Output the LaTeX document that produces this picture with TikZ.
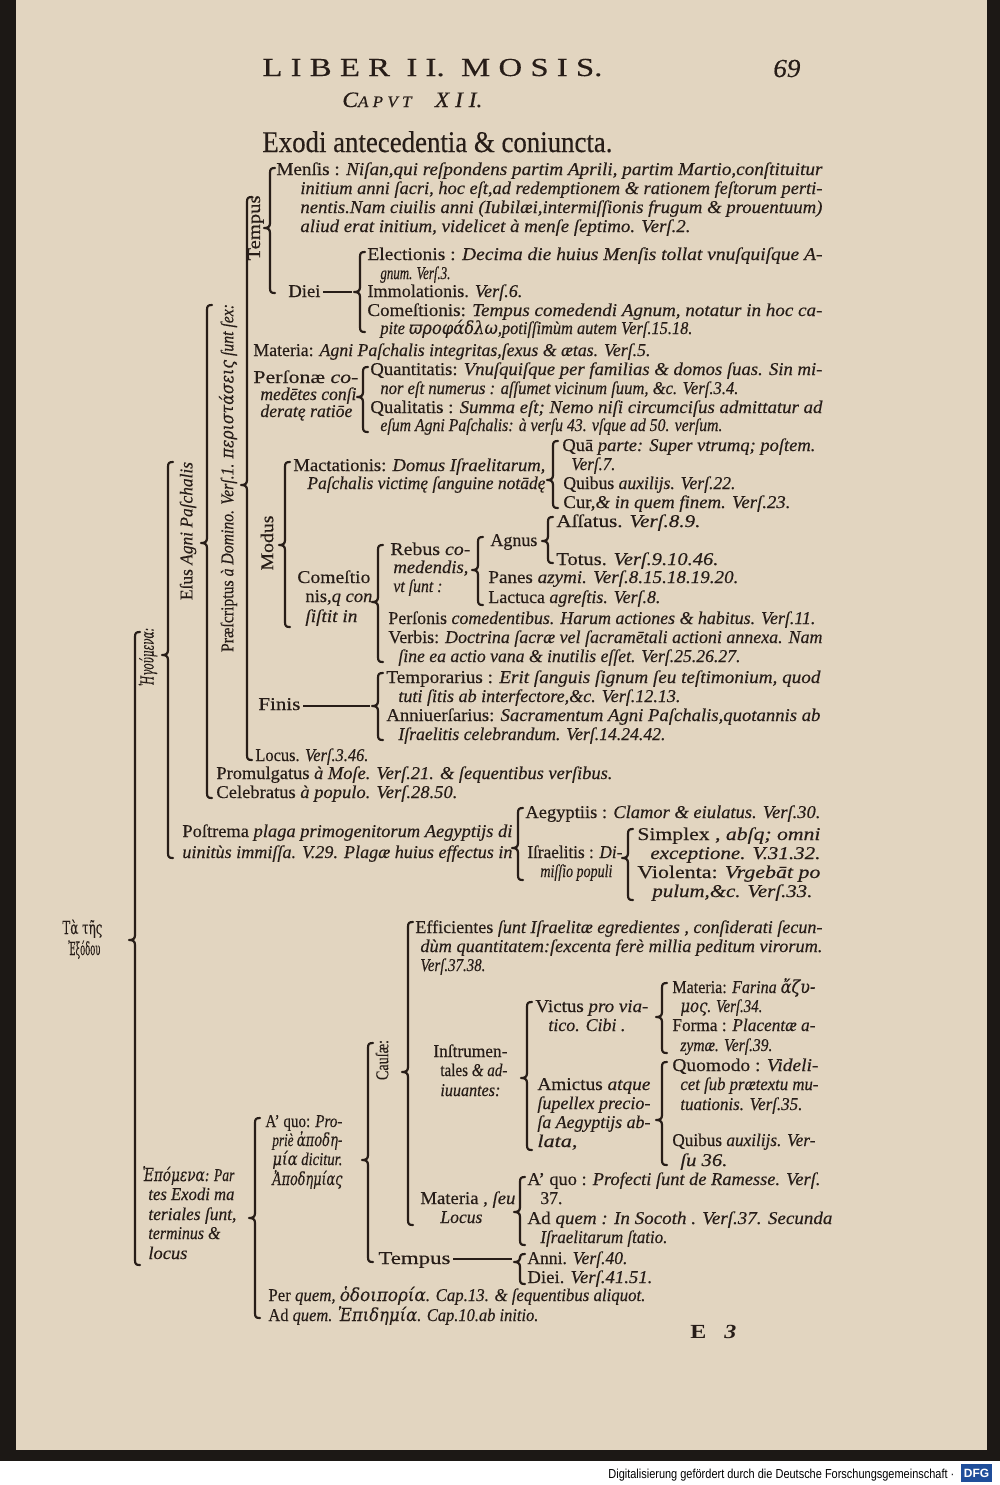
\documentclass[tikz,border=0pt]{standalone}
\usepackage{fontspec}
\usepackage{graphicx}
\setmainfont{Liberation Serif}[UprightFeatures={FakeBold=0.35},ItalicFeatures={FakeBold=0.35}]
\newfontfamily\grk{DejaVu Serif}[UprightFeatures={FakeBold=0.2},ItalicFeatures={FakeBold=0.2}]
\newfontfamily\sansf{Liberation Sans}
\definecolor{paper}{HTML}{E2D5C0}
\definecolor{ink}{HTML}{271D18}
\definecolor{edge}{HTML}{1C1815}
\definecolor{dfgblue}{HTML}{1F4E9A}
\newdimen\upx \upx=0.5pt
\newcommand\Iv[1]{{\itshape #1}}
\newcommand\gk[1]{{\grk\itshape #1}}
\newcommand\T[5]{\node[tx] (#1) at (#2,#3) {\resizebox{\dimexpr #4\upx-#2\upx\relax}{\height}{#5}};}
\newcommand\RT[5]{\node[tx,anchor=center,rotate=90] (#1) at (#2,#3) {\resizebox{#4\upx}{\height}{#5}};}
\newcommand\brc[4]{\draw[brk] (#1+5,#2) .. controls (#1+1,#2) and (#1,#2+1) .. (#1,#2+5) -- (#1,#4-5) .. controls (#1,#4-1) and (#1-2,#4) .. (#1-6,#4) .. controls (#1-2,#4) and (#1,#4+1) .. (#1,#4+5) -- (#1,#3-5) .. controls (#1,#3-1) and (#1+1,#3) .. (#1+5,#3);}
\tikzset{
  tx/.style={anchor=base west, inner sep=0pt, text=ink, font=\fontsize{9}{10}\selectfont},
  brk/.style={draw=ink, line width=1.1pt, line cap=round, line join=round},
  dashln/.style={draw=ink, line width=1.1pt}
}
\begin{document}
\begin{tikzpicture}[x=0.5pt,y=-0.5pt]
\useasboundingbox (0,0) rectangle (1000,1485);
\fill[edge] (0,0) rectangle (1000,1485);
\fill[paper] (16,0) rectangle (987,1450);
\fill[white] (0,1461) rectangle (1000,1485);
% header
\T{hdA}{262}{76}{602}{\fontsize{13}{13}\selectfont L I B E R \ I I. \ M O S I S.}
\T{hdB}{773}{77}{800}{\fontsize{13}{13}\selectfont\itshape 69}
\T{hdC}{342}{107}{482}{\fontsize{11}{11}\selectfont\itshape C{\fontsize{8}{8}\selectfont A P V T}\quad X I I.}
\T{hdD}{262}{152}{612}{\fontsize{15}{15}\selectfont Exodi antecedentia \& coniuncta.}
% rotated labels
\RT{lTemp}{256}{228}{65}{Tempus}
\RT{lMod}{267}{543}{55}{Modus}
\RT{lCau}{382}{1060}{40}{Cauſæ:}
\RT{lPrae}{228}{478}{348}{Præſcriptus \Iv{à Domino. Verſ.1.} \gk{περιστάσεις} \Iv{ſunt ſex:}}
\RT{lEsus}{188}{531}{138}{Eſus \Iv{Agni Paſchalis}}
\RT{lHeg}{148}{657}{58}{\gk{Ἡγούμενα:}}
% Tempus
\T{nM1}{276}{175}{822}{Menſis : \Iv{Niſan,qui reſpondens partim Aprili, partim Martio,conſtituitur}}
\T{nM2}{300}{194}{822}{\Iv{initium anni ſacri, hoc eſt,ad redemptionem \& rationem feſtorum perti-}}
\T{nM3}{300}{213}{822}{\Iv{nentis.Nam ciuilis anni (Iubilæi,intermiſſionis frugum \& prouentuum)}}
\T{nM4}{300}{232}{690}{\Iv{aliud erat initium, videlicet à menſe ſeptimo. Verſ.2.}}
\T{nEl1}{367}{260}{822}{Electionis : \Iv{Decima die huius Menſis tollat vnuſquiſque A-}}
\T{nEl2}{380}{279}{450}{\Iv{gnum. Verſ.3.}}
\T{nDiei}{288}{297}{320}{Diei}
\T{nIm}{367}{297}{522}{Immolationis. \Iv{Verſ.6.}}
\T{nCo1}{367}{316}{822}{Comeſtionis: \Iv{Tempus comedendi Agnum, notatur in hoc ca-}}
\T{nCo2}{380}{334}{692}{\Iv{pite} \gk{ϖροφάδλω}\Iv{,potiſſimùm autem Verſ.15.18.}}
\T{nMat}{253}{356}{650}{Materia: \Iv{Agni Paſchalis integritas,ſexus \& ætas. Verſ.5.}}
\T{nP1}{253}{383}{358}{Perſonæ \Iv{co-}}
\T{nP2}{260}{400}{356}{\Iv{medētes conſi}}
\T{nP3}{260}{417}{352}{\Iv{deratę ratiōe}}
\T{nQ1}{370}{375}{822}{Quantitatis: \Iv{Vnuſquiſque per familias \& domos ſuas. Sin mi-}}
\T{nQ2}{380}{394}{738}{\Iv{nor eſt numerus : aſſumet vicinum ſuum, \&c. Verſ.3.4.}}
\T{nQ3}{370}{413}{822}{Qualitatis : \Iv{Summa eſt; Nemo niſi circumciſus admittatur ad}}
\T{nQ4}{380}{431}{722}{\Iv{eſum Agni Paſchalis: à verſu 43. vſque ad 50. verſum.}}
% Modus
\T{nMa1}{293}{471}{545}{Mactationis: \Iv{Domus Iſraelitarum,}}
\T{nMa2}{307}{489}{545}{\Iv{Paſchalis victimę ſanguine notādę}}
\T{nQp1}{562}{451}{815}{Quā \Iv{parte: Super vtrumq; poſtem.}}
\T{nQp2}{571}{470}{615}{\Iv{Verſ.7.}}
\T{nQa}{563}{489}{735}{Quibus \Iv{auxilijs. Verſ.22.}}
\T{nCur}{563}{508}{790}{Cur,\Iv{\& in quem finem. Verſ.23.}}
\T{nAs}{556}{527}{700}{Aſſatus. \Iv{Verſ.8.9.}}
\T{nAg}{490}{546}{537}{Agnus}
\T{nTo}{556}{565}{718}{Totus. \Iv{Verſ.9.10.46.}}
\T{nCe1}{297}{583}{370}{Comeſtio}
\T{nCe2}{305}{602}{372}{nis,\Iv{q con}}
\T{nCe3}{305}{622}{357}{\Iv{ſiſtit in}}
\T{nRb1}{390}{555}{470}{Rebus \Iv{co-}}
\T{nRb2}{393}{573}{468}{\Iv{medendis,}}
\T{nRb3}{393}{592}{442}{\Iv{vt ſunt :}}
\T{nPa}{488}{583}{738}{Panes \Iv{azymi. Verſ.8.15.18.19.20.}}
\T{nLa}{488}{603}{660}{Lactuca \Iv{agreſtis. Verſ.8.}}
\T{nPe}{388}{624}{815}{Perſonis \Iv{comedentibus. Harum actiones \& habitus. Verſ.11.}}
\T{nVe1}{388}{643}{822}{Verbis: \Iv{Doctrina ſacræ vel ſacramētali actioni annexa. Nam}}
\T{nVe2}{398}{662}{740}{\Iv{ſine ea actio vana \& inutilis eſſet. Verſ.25.26.27.}}
% Finis
\T{nFin}{258}{710}{300}{Finis}
\T{nTe1}{386}{683}{820}{Temporarius : \Iv{Erit ſanguis ſignum ſeu teſtimonium, quod}}
\T{nTe2}{398}{702}{680}{\Iv{tuti ſitis ab interfectore,\&c. Verſ.12.13.}}
\T{nAn1}{386}{721}{820}{Anniuerſarius: \Iv{Sacramentum Agni Paſchalis,quotannis ab}}
\T{nAn2}{398}{740}{665}{\Iv{Iſraelitis celebrandum. Verſ.14.24.42.}}
\T{nLoc}{255}{761}{368}{Locus. \Iv{Verſ.3.46.}}
\T{nPro}{216}{779}{612}{Promulgatus \Iv{à Moſe. Verſ.21. \& ſequentibus verſibus.}}
\T{nCel}{216}{798}{457}{Celebratus \Iv{à populo. Verſ.28.50.}}
% Postrema
\T{nPs1}{182}{837}{512}{Poſtrema \Iv{plaga primogenitorum Aegyptijs di}}
\T{nPs2}{182}{858}{512}{\Iv{uinitùs immiſſa. V.29. Plagæ huius effectus in}}
\T{nAe}{525}{818}{820}{Aegyptiis : \Iv{Clamor \& eiulatus. Verſ.30.}}
\T{nIs1}{527}{858}{622}{Iſraelitis : \Iv{Di-}}
\T{nIs2}{540}{877}{612}{\Iv{miſſio populi}}
\T{nSi1}{637}{840}{820}{Simplex , \Iv{abſq; omni}}
\T{nSi2}{650}{859}{820}{\Iv{exceptione. V.31.32.}}
\T{nVi1}{637}{878}{820}{Violenta: \Iv{Vrgebāt po}}
\T{nVi2}{652}{897}{812}{\Iv{pulum,\&c. Verſ.33.}}
% root
\T{nTa1}{62}{934}{102}{\grk Τὰ τῆς}
\T{nTa2}{68}{955}{100}{\grk Ἐξόδου}
% Epomena
\T{nEf1}{415}{933}{822}{Efficientes \Iv{ſunt Iſraelitæ egredientes , conſiderati ſecun-}}
\T{nEf2}{420}{952}{822}{\Iv{dùm quantitatem:ſexcenta ferè millia peditum virorum.}}
\T{nEf3}{420}{971}{485}{\Iv{Verſ.37.38.}}
\T{nFa1}{672}{993}{815}{Materia: \Iv{Farina} \gk{ἄζυ-}}
\T{nFa2}{680}{1012}{762}{\gk{μος}\Iv{. Verſ.34.}}
\T{nVc1}{535}{1012}{648}{Victus \Iv{pro via-}}
\T{nVc2}{548}{1031}{625}{\Iv{tico. Cibi .}}
\T{nFo1}{672}{1031}{815}{Forma : \Iv{Placentæ a-}}
\T{nFo2}{680}{1051}{772}{\Iv{zymæ. Verſ.39.}}
\T{nIn1}{433}{1057}{507}{Inſtrumen-}
\T{nIn2}{440}{1076}{507}{tales \Iv{\& ad-}}
\T{nIn3}{440}{1096}{500}{\Iv{iuuantes:}}
\T{nQm1}{672}{1071}{818}{Quomodo : \Iv{Videli-}}
\T{nQm2}{680}{1090}{818}{\Iv{cet ſub prætextu mu-}}
\T{nQm3}{680}{1110}{802}{\Iv{tuationis. Verſ.35.}}
\T{nAm1}{537}{1090}{650}{Amictus \Iv{atque}}
\T{nAm2}{537}{1109}{650}{\Iv{ſupellex precio-}}
\T{nAm3}{537}{1128}{650}{\Iv{ſa Aegyptijs ab-}}
\T{nAm4}{537}{1147}{577}{\Iv{lata,}}
\T{nQb1}{672}{1146}{815}{Quibus \Iv{auxilijs. Ver-}}
\T{nQb2}{680}{1166}{727}{\Iv{ſu 36.}}
\T{nAq1}{265}{1127}{342}{A' quo: \Iv{Pro-}}
\T{nAq2}{272}{1146}{342}{\Iv{priè} \gk{ἀποδη-}}
\T{nAq3}{272}{1165}{342}{\gk{μία} \Iv{dicitur.}}
\T{nAq4}{272}{1185}{342}{\gk{Ἀποδημίας}}
\T{nEp1}{142}{1181}{234}{\gk{Ἑπόμενα:} \Iv{Par}}
\T{nEp2}{148}{1200}{234}{\Iv{tes Exodi ma}}
\T{nEp3}{148}{1220}{236}{\Iv{teriales ſunt,}}
\T{nEp4}{148}{1239}{220}{\Iv{terminus \&}}
\T{nEp5}{148}{1259}{187}{\Iv{locus}}
\T{nMs1}{420}{1204}{515}{Materia , \Iv{ſeu}}
\T{nMs2}{440}{1223}{482}{\Iv{Locus}}
\T{nRq1}{527}{1185}{820}{A' quo : \Iv{Profecti ſunt de Ramesse. Verſ.}}
\T{nRq2}{540}{1204}{562}{37.}
\T{nRq3}{527}{1224}{832}{Ad \Iv{quem : In Socoth . Verſ.37. Secunda}}
\T{nRq4}{540}{1243}{667}{\Iv{Iſraelitarum ſtatio.}}
\T{nTp}{378}{1264}{450}{Tempus}
\T{nAnni}{527}{1264}{627}{Anni. \Iv{Verſ.40.}}
\T{nDi2}{527}{1283}{652}{Diei. \Iv{Verſ.41.51.}}
\T{nPq}{268}{1301}{645}{Per \Iv{quem,} \gk{ὁδοιπορία}\Iv{. Cap.13. \& ſequentibus aliquot.}}
\T{nAdq}{268}{1321}{538}{Ad \Iv{quem.} \gk{Ἐπιδημία}\Iv{. Cap.10.ab initio.}}
\T{nSig}{690}{1338}{736}{\fontsize{10}{10}\selectfont\bfseries E \ \ \itshape 3}
% braces
\brc{135}{632}{1265}{940}
\brc{168}{462}{858}{655}
\brc{207}{305}{798}{543}
\brc{247}{197}{760}{485}
\brc{270}{168}{293}{228}
\brc{360}{252}{332}{292}
\brc{363}{367}{432}{397}
\brc{285}{462}{627}{545}
\brc{553}{441}{508}{480}
\brc{378}{545}{662}{602}
\brc{478}{537}{605}{570}
\brc{548}{517}{563}{541}
\brc{378}{673}{740}{706}
\brc{518}{808}{880}{848}
\brc{628}{829}{900}{858}
\brc{255}{1118}{1318}{1218}
\brc{368}{1043}{1262}{1160}
\brc{408}{922}{1225}{1072}
\brc{527}{1002}{1150}{1078}
\brc{662}{983}{1053}{1017}
\brc{662}{1062}{1165}{1120}
\brc{520}{1177}{1245}{1212}
\brc{520}{1254}{1284}{1262}
% dashes
\coordinate (dA) at (323,292); \coordinate (dB) at (352,292);
\draw[dashln] (dA) -- (dB);
\coordinate (fA) at (303,706); \coordinate (fB) at (370,706);
\draw[dashln] (fA) -- (fB);
\coordinate (tA) at (453,1259); \coordinate (tB) at (512,1259);
\draw[dashln] (tA) -- (tB);
% footer band
\node[anchor=base west, inner sep=0pt] (dfgtxt) at (608,1478) {\resizebox{173pt}{\height}{\sansf\fontsize{6.5}{7}\selectfont Digitalisierung gefördert durch die Deutsche Forschungsgemeinschaft ·}};
\fill[dfgblue] (961,1464) rectangle (992,1482);
\node[anchor=center, inner sep=0pt, text=white, font=\sansf\bfseries\fontsize{6}{6}\selectfont] (dfglogo) at (976.5,1473) {DFG};
\end{tikzpicture}
\end{document}
